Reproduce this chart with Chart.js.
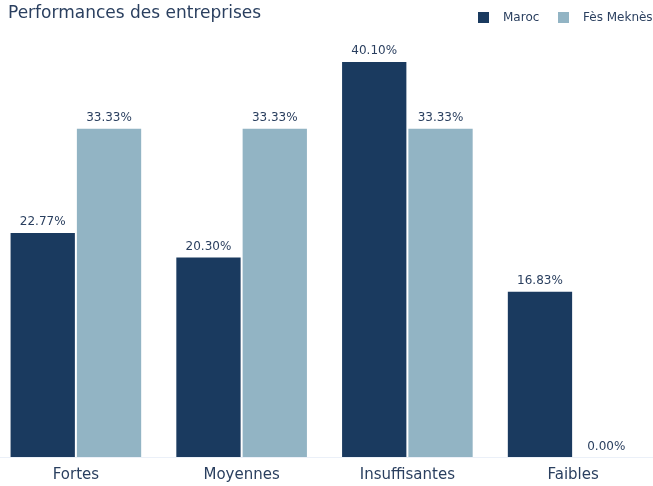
<!DOCTYPE html>
<html>
<head>
<meta charset="utf-8">
<script src="https://cdn.jsdelivr.net/npm/chart.js@4/dist/chart.umd.min.js"></script>
<style>
  html, body { margin: 0; padding: 0; background: #fff; overflow: hidden; }
  #wrap { width: 653px; height: 486px; overflow: hidden; position: relative; }
  #barChart { position: absolute; left: -7px; top: 0; }
</style>
</head>
<body>
<div id="wrap"><canvas id="barChart" width="663" height="494"></canvas></div>
<script>
var categories = ['Fortes', 'Moyennes', 'Insuffisantes', 'Faibles'];
var maroc = [22.77, 20.30, 40.10, 16.83];
var fesMeknes = [33.33, 33.33, 33.33, 0.00];
var seriesNames = ['Maroc', 'Fès Meknès'];
var seriesColors = ['#1a3a5f', '#92b4c4'];

var textColor = '#2a3f5f';
var shift = 7; // canvas is shifted left by this much

// title top-left and legend top-right, same row
var headerPlugin = {
    id: 'header',
    afterDraw: function (chart) {
        var c = chart.ctx;
        c.save();
        c.font = '17px "DejaVu Sans"';
        c.fillStyle = textColor;
        c.textAlign = 'left';
        c.textBaseline = 'middle';
        c.fillText('Performances des entreprises', 8 + shift, 14);

        var legendX = [478, 558];
        c.font = '12px "DejaVu Sans"';
        chart.data.datasets.forEach(function (ds, i) {
            c.fillStyle = ds.backgroundColor;
            c.fillRect(legendX[i] + shift, 12, 11, 11);
            c.fillStyle = textColor;
            c.fillText(ds.label, legendX[i] + shift + 25, 18);
        });
        c.restore();
    }
};

// value labels above bars
var valuePlugin = {
    id: 'valueLabels',
    afterDatasetsDraw: function (chart) {
        var c = chart.ctx;
        c.save();
        c.font = '12px "DejaVu Sans"';
        c.fillStyle = textColor;
        c.textAlign = 'center';
        c.textBaseline = 'bottom';
        chart.data.datasets.forEach(function (ds, i) {
            chart.getDatasetMeta(i).data.forEach(function (bar, j) {
                c.fillText(ds.data[j].toFixed(2) + '%', bar.x, bar.y - 4);
            });
        });
        c.restore();
    }
};

var ctxBar = document.getElementById('barChart').getContext('2d');
var barChart = new Chart(ctxBar, {
    type: 'bar',
    data: {
        labels: categories,
        datasets: [{
            label: seriesNames[0],
            data: maroc,
            backgroundColor: seriesColors[0],
            borderColor: '#ffffff',
            borderWidth: 1,
            borderSkipped: 'bottom',
            barPercentage: 1,
            categoryPercentage: 0.8
        }, {
            label: seriesNames[1],
            data: fesMeknes,
            backgroundColor: seriesColors[1],
            borderColor: '#ffffff',
            borderWidth: 1,
            borderSkipped: 'bottom',
            barPercentage: 1,
            categoryPercentage: 0.8
        }]
    },
    options: {
        responsive: false,
        animation: false,
        layout: { padding: { left: 0, right: 0, top: 40, bottom: 1 } },
        plugins: {
            legend: { display: false },
            tooltip: { enabled: false }
        },
        scales: {
            x: {
                grid: { display: false, drawTicks: false },
                border: { color: '#ebf0f8', width: 1 },
                ticks: {
                    color: textColor,
                    font: { family: 'DejaVu Sans', size: 15 },
                    padding: 9
                }
            },
            y: {
                display: false,
                min: 0,
                max: 42.22
            }
        }
    },
    plugins: [headerPlugin, valuePlugin]
});
</script>
</body>
</html>
